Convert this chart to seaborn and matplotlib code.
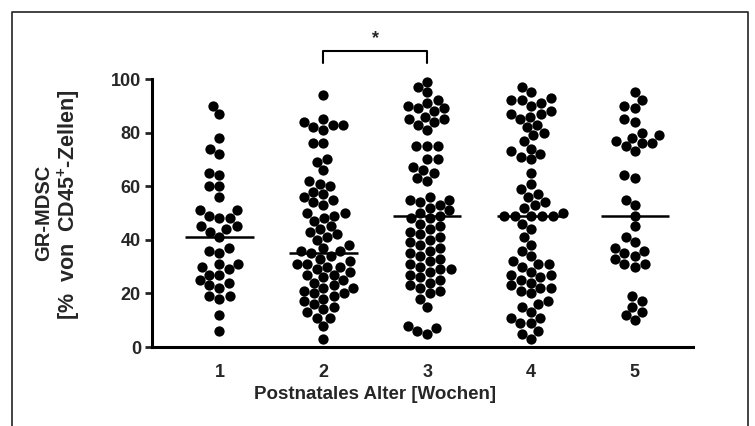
import matplotlib
matplotlib.use("Agg")
import matplotlib.pyplot as plt
from matplotlib.lines import Line2D
import seaborn as sns
import pandas as pd
import numpy as np

# ---- data ----
weeks = ["1", "2", "3", "4", "5"]
week1 = [90, 87, 78, 74, 72, 65, 64, 60, 60, 56, 51, 51, 48, 48, 49, 45, 44, 43, 45, 41,
         37, 35, 36, 31, 31, 30, 29, 27, 27, 25, 24, 23, 22, 19, 18, 19, 12, 6]
week2 = [94, 85, 84, 83, 83, 82, 81, 76, 76, 70, 69, 66, 62, 60, 61, 57, 58, 56, 55, 54, 53,
         50, 50, 49, 47, 48, 45, 44, 43, 42, 41, 40, 38, 37, 36, 36, 35, 34, 33, 32, 31, 31,
         30, 30, 29, 28, 27, 27, 26, 25, 24, 23, 22, 22, 21, 20, 20, 19, 18, 17, 16, 15, 14,
         13, 11, 11, 8, 3]
week3 = [99, 97, 95, 92, 91, 90, 89, 89, 88, 86, 85, 85, 84, 83, 81, 75, 75, 75, 70, 70,
         67, 66, 63, 62, 65, 56, 55, 55, 54, 53, 52, 51, 50, 49, 48, 48, 46, 45, 44, 43, 42,
         41, 40, 39, 38, 37, 36, 35, 34, 33, 32, 31, 30, 29, 29, 28, 27, 26, 25, 24, 23, 22,
         21, 20, 18, 15, 8, 7, 6, 5]
week4 = [97, 95, 93, 92, 92, 91, 90, 88, 87, 87, 86, 85, 83, 82, 80, 79, 77, 74, 73, 72,
         71, 70, 65, 61, 59, 57, 56, 54, 53, 52, 50, 49, 49, 49, 49, 49, 46, 44, 41, 38, 36,
         34, 32, 31, 31, 30, 28, 27, 27, 26, 25, 24, 23, 22, 22, 21, 20, 17, 16, 15, 13, 11,
         11, 9, 9, 6, 5, 3]
week5 = [95, 92, 90, 89, 85, 84, 80, 79, 78, 77, 76, 76, 75, 73, 64, 63, 55, 53, 49, 45,
         41, 39, 37, 36, 35, 34, 33, 31, 31, 30, 19, 17, 15, 13, 12, 10]
medians = [41, 35, 49, 49, 49]
yticks = [0, 20, 40, 60, 80, 100]
sig_pair = (1, 2)  # between week 2 and week 3
sig_label = "*"

df = pd.DataFrame({
    "week": sum([[w] * len(v) for w, v in zip(weeks, [week1, week2, week3, week4, week5])], []),
    "value": week1 + week2 + week3 + week4 + week5,
})

sns.set_style("white")
plt.rcParams["font.family"] = ["Liberation Sans", "DejaVu Sans"]
plt.rcParams["mathtext.fontset"] = "custom"
plt.rcParams["mathtext.bf"] = "Liberation Sans:bold"
plt.rcParams["mathtext.rm"] = "Liberation Sans:bold"

fig = plt.figure(figsize=(7.55, 4.26), dpi=100)
ax = fig.add_axes([152 / 755, 1 - 347 / 426, (693 - 152) / 755, (347 - 79) / 426])

sns.swarmplot(data=df, x="week", y="value", order=weeks, color="black", size=7.4,
              ax=ax, clip_on=False, warn_thresh=1.0)

# median lines
for i, m in enumerate(medians):
    ax.plot([i - 0.33, i + 0.33], [m, m], color="black", lw=1.8, zorder=5, solid_capstyle="butt")

ax.set_xlim(-0.65, 4.56)
ax.set_ylim(0, 100)
ax.set_yticks(yticks)
ax.set_yticklabels([str(t) for t in yticks], fontsize=13, fontweight="bold")
ax.set_xticks(range(len(weeks)))
ax.set_xticklabels(weeks, fontsize=13, fontweight="bold")
ax.tick_params(axis="y", length=5, width=2, pad=3, direction="out", left=True)
ax.tick_params(axis="x", length=0, pad=12)
for s in ["top", "right"]:
    ax.spines[s].set_visible(False)
for s in ["left", "bottom"]:
    ax.spines[s].set_linewidth(2.2)
    ax.spines[s].set_color("black")

ax.set_xlabel("Postnatales Alter [Wochen]", fontsize=13.5, fontweight="bold", labelpad=6)
ax.xaxis.set_label_coords((375 - 152) / 541, -0.145)
ax.set_ylabel("")

# y label as two text lines
fig.text(44 / 755, 1 - 213 / 426, "GR-MDSC", rotation=90, ha="center", va="center",
         fontsize=14.5, fontweight="bold")
fig.text(69 / 755, 1 - 205 / 426, "[%  von  CD45$^{\\mathbf{+}}$-Zellen]", rotation=90,
         ha="center", va="center", fontsize=15.5, fontweight="bold")

# significance bracket
x0, x1 = sig_pair
ax.plot([x0, x0, x1, x1], [106, 110.5, 110.5, 106], color="black", lw=1.5, clip_on=False)
ax.text((x0 + x1) / 2, 112, sig_label, ha="center", va="bottom", fontsize=13,
        fontweight="bold")

# outer frame (left, top, right)
lx, rx, ty = 12 / 755, 748 / 755, 1 - 12 / 426
fig.add_artist(Line2D([lx, lx, rx, rx], [0, ty, ty, 0], transform=fig.transFigure,
                      color="#222222", lw=1.2))

fig.savefig("out.png", dpi=100)
